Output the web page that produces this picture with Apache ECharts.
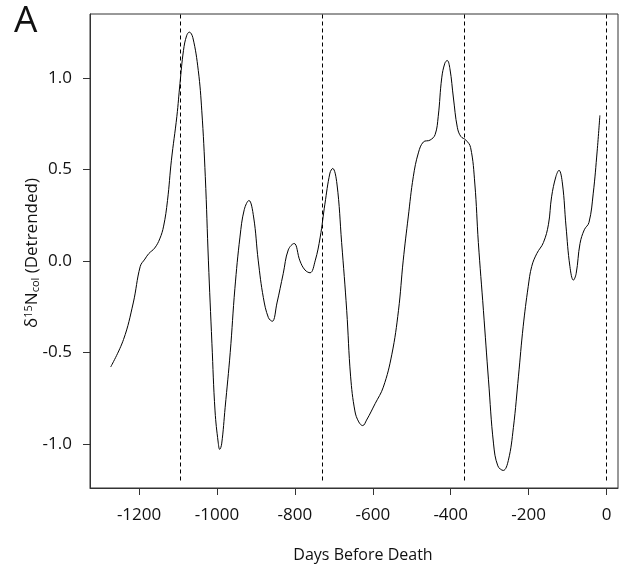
<!DOCTYPE html>
<html>
<head>
<meta charset="utf-8">
<script src="https://cdn.jsdelivr.net/npm/echarts@6/dist/echarts.min.js"></script>
<style>html,body{margin:0;padding:0;background:#fff;}#c{width:621px;height:575px;}</style>
</head>
<body>
<div id="c"></div>
<script>
const days = [-1273,-1240,-1215,-1197,-1185,-1175,-1160,-1147,-1137,-1127,-1117,-1103,-1095,-1086,-1078,-1071,-1062,-1048,-1039,-1030,-1022,-1013,-1005,-997,-993,-988,-979,-966,-954,-941,-930,-918,-906,-894,-881,-868,-858,-846,-830,-817,-802,-787,-774,-761,-748,-735,-723,-710,-703,-692,-680,-667,-657,-646,-636,-626,-616,-594,-573,-551,-534,-522,-509,-496,-483,-470,-453,-440,-432,-423,-415,-409,-402,-393,-383,-374,-361,-349,-338,-329,-316,-303,-290,-279,-265,-252,-239,-226,-214,-201,-192,-179,-162,-149,-141,-130,-122,-113,-104,-94,-85,-78,-68,-57,-45,-34,-24,-17];
const values = [-0.58,-0.43,-0.23,-0.03,0.01,0.04,0.07,0.12,0.19,0.33,0.55,0.79,0.97,1.15,1.23,1.25,1.22,1.04,0.82,0.46,0.0,-0.45,-0.82,-0.99,-1.03,-1.0,-0.8,-0.5,-0.15,0.13,0.28,0.33,0.24,0.0,-0.2,-0.31,-0.33,-0.23,-0.07,0.06,0.095,0.0,-0.05,-0.065,0.0,0.13,0.31,0.48,0.505,0.42,0.1,-0.27,-0.63,-0.82,-0.88,-0.9,-0.87,-0.78,-0.69,-0.51,-0.27,0.0,0.24,0.46,0.59,0.65,0.66,0.69,0.79,1.0,1.08,1.095,1.05,0.89,0.73,0.68,0.66,0.62,0.42,0.1,-0.27,-0.65,-1.0,-1.12,-1.145,-1.09,-0.91,-0.63,-0.36,-0.14,-0.03,0.04,0.1,0.2,0.35,0.46,0.495,0.42,0.19,-0.03,-0.105,-0.07,0.095,0.17,0.21,0.37,0.6,0.795];
const xTicks = [-1200,-1000,-800,-600,-400,-200,0];
const yTicks = [-1.0,-0.5,0.0,0.5,1.0];
const yearMarks = [-1095,-730,-365,0];

const FONT = '"Open Sans", "Noto Sans", sans-serif';
const xMin = -1326, xMax = 29.5, yMin = -1.241, yMax = 1.349;

const chart = echarts.init(document.getElementById('c'), null, {renderer: 'canvas'});
chart.setOption({
  animation: false,
  backgroundColor: '#fff',
  grid: {left: 90, top: 14, right: 3, bottom: 87, show: true, borderColor: '#333', borderWidth: 1, containLabel: false},
  xAxis: {
    type: 'value', min: xMin, max: xMax,
    axisLine: {show: true, onZero: false, lineStyle: {color: '#333', width: 1}},
    axisTick: {show: true, customValues: xTicks, length: 7, inside: false, lineStyle: {color: '#333'}},
    axisLabel: {customValues: xTicks, margin: 19, color: '#111', fontSize: 17, fontFamily: FONT, formatter: v => String(v)},
    splitLine: {show: false}
  },
  yAxis: {
    type: 'value', min: yMin, max: yMax,
    axisLine: {show: true, onZero: false, lineStyle: {color: '#333', width: 1}},
    axisTick: {show: true, customValues: yTicks, length: 7, inside: false, lineStyle: {color: '#333'}},
    axisLabel: {customValues: yTicks, margin: 18, color: '#111', fontSize: 17, fontFamily: FONT, formatter: v => v.toFixed(1)},
    splitLine: {show: false}
  },
  graphic: [
    {type: 'text', left: 14, top: 3, style: {text: 'A', fontSize: 37, fontFamily: FONT, fill: '#111'}},
    {type: 'text', x: 363, y: 555, style: {text: 'Days Before Death', fontSize: 16, fontFamily: FONT, fill: '#111', align: 'center', verticalAlign: 'middle'}},
    {type: 'text', x: 32, y: 253, rotation: Math.PI / 2,
     style: {
       text: '{a|δ}{sup|15}{a|N}{sub|col}{a| (Detrended)}',
       align: 'center', verticalAlign: 'middle',
       rich: {
         a: {fontSize: 17, fontFamily: FONT, fill: '#111', color: '#111'},
         sup: {fontSize: 11, fontFamily: FONT, fill: '#111', color: '#111', verticalAlign: 'top', padding: [0,0,7,0]},
         sub: {fontSize: 11, fontFamily: FONT, fill: '#111', color: '#111', verticalAlign: 'bottom', padding: [7,0,0,0]}
       }
     }}
  ],
  series: [
    {
      type: 'line',
      data: days.map((d, i) => [d, values[i]]),
      showSymbol: false,
      smooth: 0.4,
      lineStyle: {color: '#000', width: 1},
      silent: true,
      markLine: {
        silent: true, symbol: 'none', label: {show: false},
        lineStyle: {color: '#000', width: 1, type: [4, 3]},
        data: yearMarks.map(d => [{coord: [d, -1.2]}, {coord: [d, yMax]}])
      }
    }
  ]
});
</script>
</body>
</html>
